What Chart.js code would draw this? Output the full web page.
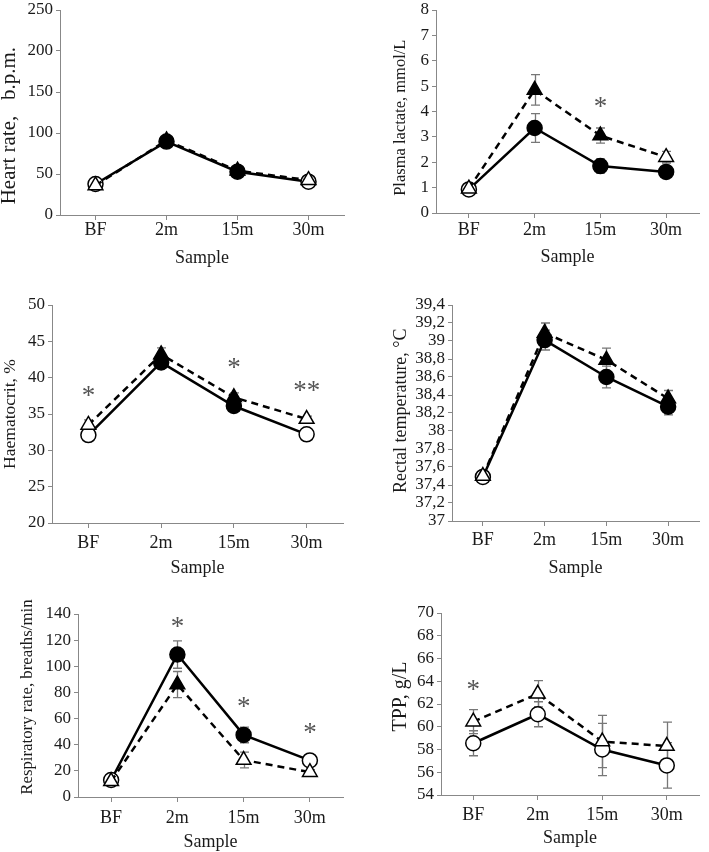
<!DOCTYPE html>
<html><head><meta charset="utf-8">
<script src="https://cdn.jsdelivr.net/npm/chart.js@4.4.0/dist/chart.umd.min.js"></script>
<style>
html,body{margin:0;padding:0;background:#fff;width:709px;height:852px;overflow:hidden;position:relative}
.p{position:absolute}
canvas{display:block}
</style></head><body>
<div class="p" id="w0"><canvas id="c0"></canvas></div>
<div class="p" id="w1"><canvas id="c1"></canvas></div>
<div class="p" id="w2"><canvas id="c2"></canvas></div>
<div class="p" id="w3"><canvas id="c3"></canvas></div>
<div class="p" id="w4"><canvas id="c4"></canvas></div>
<div class="p" id="w5"><canvas id="c5"></canvas></div>
<script>
const categories = ['BF', '2m', '15m', '30m'];
const xTitle = 'Sample';

// Heart rate
const hrCircle = [37.8, 89.5, 52.8, 40.6];
const hrCircleErr = [3, 3, 3, 3];
const hrCircleFilled = [false, true, true, false];
const hrTriangle = [36, 91, 54, 42.5];
const hrTriangleErr = [3, 3, 3, 3];
const hrTriangleFilled = [false, true, true, false];
const hrStars = ['', '', '', ''];
const hrStarY = [null, null, null, null];
const hrTicks = [0, 50, 100, 150, 200, 250];
const hrTickLabels = ['0', '50', '100', '150', '200', '250'];

// Plasma lactate
const laCircle = [0.93, 3.35, 1.85, 1.62];
const laCircleErr = [0.08, 0.57, 0.28, 0.2];
const laCircleFilled = [false, true, true, true];
const laTriangle = [0.96, 4.85, 3.05, 2.2];
const laTriangleErr = [0.08, 0.6, 0.3, 0.23];
const laTriangleFilled = [false, true, true, false];
const laStars = ['', '', '*', ''];
const laStarY = [null, null, 4.39, null];
const laTicks = [0, 1, 2, 3, 4, 5, 6, 7, 8];
const laTickLabels = ['0', '1', '2', '3', '4', '5', '6', '7', '8'];

// Haematocrit
const haCircle = [32.1, 42.1, 36.1, 32.2];
const haCircleErr = [0.6, 0.6, 0.6, 0.4];
const haCircleFilled = [false, true, true, false];
const haTriangle = [33.5, 43.2, 37.3, 34.3];
const haTriangleErr = [0.7, 0.9, 0.6, 0.4];
const haTriangleFilled = [false, true, true, false];
const haStars = ['*', '', '*', '**'];
const haStarY = [38.1, null, 42, 38.8];
const haTicks = [20, 25, 30, 35, 40, 45, 50];
const haTickLabels = ['20', '25', '30', '35', '40', '45', '50'];

// Rectal temperature
const rtCircle = [37.49, 39.01, 38.6, 38.27];
const rtCircleErr = [0.03, 0.11, 0.12, 0.09];
const rtCircleFilled = [false, true, true, true];
const rtTriangle = [37.5, 39.09, 38.79, 38.36];
const rtTriangleErr = [0.03, 0.11, 0.13, 0.09];
const rtTriangleFilled = [false, true, true, true];
const rtStars = ['', '', '', ''];
const rtStarY = [null, null, null, null];
const rtTicks = [37, 37.2, 37.4, 37.6, 37.8, 38, 38.2, 38.4, 38.6, 38.8, 39, 39.2, 39.4];
const rtTickLabels = ['37', '37,2', '37,4', '37,6', '37,8', '38', '38,2', '38,4', '38,6', '38,8', '39', '39,2', '39,4'];

// Respiratory rate
const rrCircle = [13, 109, 47.5, 28];
const rrCircleErr = [1.5, 10.5, 6, 2];
const rrCircleFilled = [false, true, true, false];
const rrTriangle = [12, 86, 28.3, 19];
const rrTriangleErr = [1.5, 10, 6, 2];
const rrTriangleFilled = [false, true, false, false];
const rrStars = ['', '*', '*', '*'];
const rrStarY = [null, 134, 72.9, 52.5];
const rrTicks = [0, 20, 40, 60, 80, 100, 120, 140];
const rrTickLabels = ['0', '20', '40', '60', '80', '100', '120', '140'];

// TPP
const tpCircle = [58.55, 61.1, 58.0, 56.6];
const tpCircleErr = [1.1, 1.1, 2.3, 2.0];
const tpCircleFilled = [false, false, false, false];
const tpTriangle = [60.45, 62.9, 58.7, 58.3];
const tpTriangleErr = [1.05, 1.15, 2.3, 2.1];
const tpTriangleFilled = [false, false, false, false];
const tpStars = ['*', '', '', ''];
const tpStarY = [63.7, null, null, null];
const tpTicks = [54, 56, 58, 60, 62, 64, 66, 68, 70];
const tpTickLabels = ['54', '56', '58', '60', '62', '64', '66', '68', '70'];

const FONT = "'Liberation Serif', 'Times New Roman', serif";
const TEXT = '#1a1a1a';

// titleShift: spaces used to nudge the rotated title along the axis (negative = up)
const panels = [
  {title: 'Heart rate,   b.p.m.', titleSize: 21, titleShift: 5, ticks: hrTicks, tickLabels: hrTickLabels,
   circle: hrCircle, circleErr: hrCircleErr, circleFilled: hrCircleFilled,
   triangle: hrTriangle, triangleErr: hrTriangleErr, triangleFilled: hrTriangleFilled,
   stars: hrStars, starY: hrStarY,
   box: {col: 0, L: 60, R: 345, T: 10, B: 215, titleX: 9, xTickY: 230, xTitleY: 258}},
  {title: 'Plasma lactate, mmol/L', titleSize: 16.5, titleShift: 3, ticks: laTicks, tickLabels: laTickLabels,
   circle: laCircle, circleErr: laCircleErr, circleFilled: laCircleFilled,
   triangle: laTriangle, triangleErr: laTriangleErr, triangleFilled: laTriangleFilled,
   stars: laStars, starY: laStarY,
   box: {col: 1, L: 436, R: 707, T: 10, B: 213, titleX: 401, xTickY: 230, xTitleY: 257}},
  {title: 'Haematocrit, %', titleSize: 17.5, titleShift: 0, ticks: haTicks, tickLabels: haTickLabels,
   circle: haCircle, circleErr: haCircleErr, circleFilled: haCircleFilled,
   triangle: haTriangle, triangleErr: haTriangleErr, triangleFilled: haTriangleFilled,
   stars: haStars, starY: haStarY,
   box: {col: 0, L: 52, R: 343, T: 305, B: 523, titleX: 10, xTickY: 543, xTitleY: 568}},
  {title: 'Rectal temperature, °C', titleSize: 18, titleShift: -1, ticks: rtTicks, tickLabels: rtTickLabels,
   circle: rtCircle, circleErr: rtCircleErr, circleFilled: rtCircleFilled,
   triangle: rtTriangle, triangleErr: rtTriangleErr, triangleFilled: rtTriangleFilled,
   stars: rtStars, starY: rtStarY,
   box: {col: 1, L: 452, R: 707, T: 305, B: 521, titleX: 401, xTickY: 540, xTitleY: 568}},
  {title: 'Respiratory rate, breaths/min', titleSize: 16.8, titleShift: -4, ticks: rrTicks, tickLabels: rrTickLabels,
   circle: rrCircle, circleErr: rrCircleErr, circleFilled: rrCircleFilled,
   triangle: rrTriangle, triangleErr: rrTriangleErr, triangleFilled: rrTriangleFilled,
   stars: rrStars, starY: rrStarY,
   box: {col: 0, L: 78, R: 343, T: 614, B: 797, titleX: 28, xTickY: 818, xTitleY: 842}},
  {title: 'TPP, g/L', titleSize: 20, titleShift: -3, ticks: tpTicks, tickLabels: tpTickLabels,
   circle: tpCircle, circleErr: tpCircleErr, circleFilled: tpCircleFilled,
   triangle: tpTriangle, triangleErr: tpTriangleErr, triangleFilled: tpTriangleFilled,
   stars: tpStars, starY: tpStarY,
   box: {col: 1, L: 441, R: 702, T: 613, B: 795, titleX: 401, xTickY: 815, xTitleY: 838}}
];

function makeExtras(p) {
  return {
    id: 'extras',
    beforeDatasetsDraw(chart) {
      const {ctx, scales: {x, y}} = chart;
      ctx.save();
      ctx.strokeStyle = '#777';
      ctx.lineWidth = 1.3;
      [[p.circle, p.circleErr], [p.triangle, p.triangleErr]].forEach(([vals, errs]) => {
        vals.forEach((v, i) => {
          const e = errs[i];
          if (!e) return;
          const px = Math.round(x.getPixelForValue(i)) + 0.5;
          const t = y.getPixelForValue(v + e);
          const b = y.getPixelForValue(v - e);
          ctx.beginPath();
          ctx.moveTo(px, t); ctx.lineTo(px, b);
          ctx.moveTo(px - 4.5, t); ctx.lineTo(px + 4.5, t);
          ctx.moveTo(px - 4.5, b); ctx.lineTo(px + 4.5, b);
          ctx.stroke();
        });
      });
      ctx.restore();
    },
    afterDatasetsDraw(chart) {
      const {ctx, scales: {x, y}} = chart;
      ctx.save();
      ctx.fillStyle = '#555';
      ctx.font = '27px ' + FONT;
      ctx.textAlign = 'center';
      ctx.textBaseline = 'alphabetic';
      p.stars.forEach((s, i) => {
        if (!s) return;
        const px = x.getPixelForValue(i);
        const py = y.getPixelForValue(p.starY[i]);
        ctx.fillText(s, px, py + 13);
      });
      ctx.restore();
    }
  };
}

panels.forEach((p, k) => {
  const b = p.box;
  const divLeft = b.col === 0 ? -10 : 344;
  const divRight = b.col === 0 ? 354 : 709;
  const padTop = 20;
  const divTop = b.T - padTop;
  const xAxisH = 60;
  const divW = divRight - divLeft;
  const divH = b.B - divTop + xAxisH;
  const wrap = document.getElementById('w' + k);
  wrap.style.left = divLeft + 'px';
  wrap.style.top = divTop + 'px';
  wrap.style.width = divW + 'px';
  wrap.style.height = divH + 'px';
  const cv = document.getElementById('c' + k);
  cv.width = divW; cv.height = divH;
  cv.style.width = divW + 'px'; cv.style.height = divH + 'px';

  const yW = b.L - divLeft;
  const padRight = divRight - b.R;
  const yTitleLH = p.titleSize * 1.2;
  const yTitlePad = b.titleX - divLeft - yTitleLH / 2;
  const xFont = 18;
  const xLH = xFont * 1.2;
  const xTitlePadBottom = b.B + xAxisH - b.xTitleY - xLH / 2;
  const xTickPad = b.xTickY - b.B - 5 - xLH / 2;
  const sp = ' '.repeat(Math.abs(p.titleShift));
  const titleText = p.titleShift > 0 ? p.title + sp : sp + p.title;

  new Chart(cv, {
    type: 'line',
    data: {
      labels: categories,
      datasets: [
        {
          label: 'circle', data: p.circle, order: 2,
          borderColor: '#000', borderWidth: 2.5, tension: 0, fill: false, clip: false,
          pointStyle: 'circle', pointRadius: 7.5, pointHoverRadius: 7.5, pointBorderWidth: 1.5,
          pointBorderColor: '#000',
          pointBackgroundColor: p.circleFilled.map(f => f ? '#000' : '#fff')
        },
        {
          label: 'triangle', data: p.triangle, order: 1,
          borderColor: '#000', borderWidth: 2.5, borderDash: [7, 5], tension: 0, fill: false, clip: false,
          pointStyle: 'triangle', pointRadius: 8.5, pointHoverRadius: 8.5, pointBorderWidth: 1.5,
          pointBorderColor: '#000',
          pointBackgroundColor: p.triangleFilled.map(f => f ? '#000' : '#fff')
        }
      ]
    },
    options: {
      responsive: false,
      animation: false,
      events: [],
      layout: {padding: {top: padTop, right: padRight, left: 0, bottom: 0}},
      plugins: {legend: {display: false}, tooltip: {enabled: false}},
      scales: {
        x: {
          type: 'category', offset: true,
          grid: {drawOnChartArea: false, drawTicks: true, tickLength: 5, color: '#888', lineWidth: 1},
          border: {display: true, color: '#888', width: 1},
          ticks: {font: {family: FONT, size: xFont}, color: TEXT, padding: xTickPad, maxRotation: 0, autoSkip: false},
          title: {display: true, text: xTitle, font: {family: FONT, size: 18}, color: TEXT,
                  padding: {top: 0, bottom: xTitlePadBottom}},
          afterFit: s => { s.height = xAxisH; }
        },
        y: {
          type: 'linear',
          min: p.ticks[0], max: p.ticks[p.ticks.length - 1],
          afterBuildTicks: s => { s.ticks = p.ticks.map(v => ({value: v})); },
          grid: {drawOnChartArea: false, drawTicks: true, tickLength: 4, color: '#888', lineWidth: 1},
          border: {display: true, color: '#888', width: 1},
          ticks: {font: {family: FONT, size: 17}, color: TEXT, padding: 3, autoSkip: false,
                  callback: (v, i) => p.tickLabels[i]},
          title: {display: true, text: titleText, font: {family: FONT, size: p.titleSize}, color: TEXT,
                  padding: {top: yTitlePad, bottom: 0}},
          afterFit: s => { s.width = yW; }
        }
      }
    },
    plugins: [makeExtras(p)]
  });
});
</script>
</body></html>
